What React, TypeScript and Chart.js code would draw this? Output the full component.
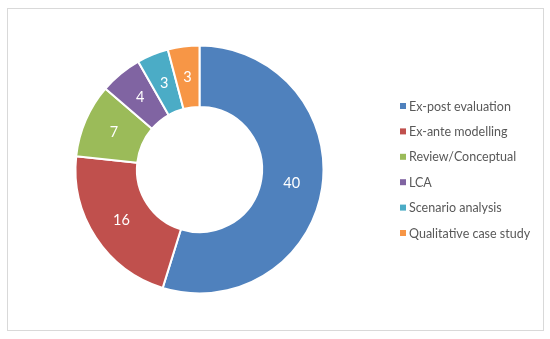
import React, { useEffect, useRef } from "react";
import { Chart, registerables } from "chart.js";

Chart.register(...registerables);

const categories = [
  "Ex-post evaluation",
  "Ex-ante modelling",
  "Review/Conceptual",
  "LCA",
  "Scenario analysis",
  "Qualitative case study",
];
const values = [40, 16, 7, 4, 3, 3];
const colors = ["#4F81BD", "#C0504D", "#9BBB59", "#8064A2", "#4BACC6", "#F79646"];

const FONT = "Lato, 'Open Sans', sans-serif";

const labelPlugin = {
  id: "sliceLabels",
  afterDatasetsDraw(chart: any) {
    const ctx = chart.ctx;
    const meta = chart.getDatasetMeta(0);
    ctx.save();
    ctx.fillStyle = "#FFFFFF";
    ctx.font = `14.5px ${FONT}`;
    ctx.textAlign = "center";
    ctx.textBaseline = "middle";
    meta.data.forEach((arc: any, i: number) => {
      const p = arc.tooltipPosition();
      ctx.fillText(String(values[i]), p.x, p.y);
    });
    ctx.restore();
  },
};

const legendPlugin = {
  id: "customLegend",
  afterDraw(chart: any) {
    const ctx = chart.ctx;
    ctx.save();
    ctx.font = `12.5px ${FONT}`;
    ctx.textBaseline = "middle";
    ctx.textAlign = "left";
    const x0 = 400;
    const y0 = 106;
    const step = 25.4;
    categories.forEach((c, i) => {
      const y = y0 + i * step;
      ctx.fillStyle = colors[i];
      ctx.fillRect(x0, y - 3, 6, 6);
      ctx.fillStyle = "#595959";
      ctx.fillText(c, x0 + 9, y + 0.5);
    });
    ctx.restore();
  },
};

export default function App() {
  const ref = useRef<HTMLCanvasElement | null>(null);
  useEffect(() => {
    if (!ref.current) return;
    const chart = new Chart(ref.current, {
      type: "doughnut",
      data: {
        labels: categories,
        datasets: [
          {
            data: values,
            backgroundColor: colors,
            borderColor: "#FFFFFF",
            borderWidth: 2,
          },
        ],
      },
      options: {
        responsive: false,
        animation: false,
        cutout: "50.5%",
        layout: { padding: { left: 74.5, right: 225.5, top: 44.5, bottom: 44.5 } },
        plugins: {
          legend: { display: false },
          tooltip: { enabled: false },
        },
      },
      plugins: [labelPlugin, legendPlugin],
    });
    return () => chart.destroy();
  }, []);
  return (
    <div style={{ position: "absolute", left: 0, top: 0, width: 550, height: 339, background: "#fff" }}>
      <canvas ref={ref} width={550} height={339} style={{ position: "absolute", left: 0, top: 0 }} />
      <div
        style={{
          position: "absolute",
          left: 7,
          top: 8,
          width: 537,
          height: 323,
          border: "1px solid #D9D9D9",
          boxSizing: "border-box",
          pointerEvents: "none",
        }}
      />
    </div>
  );
}
